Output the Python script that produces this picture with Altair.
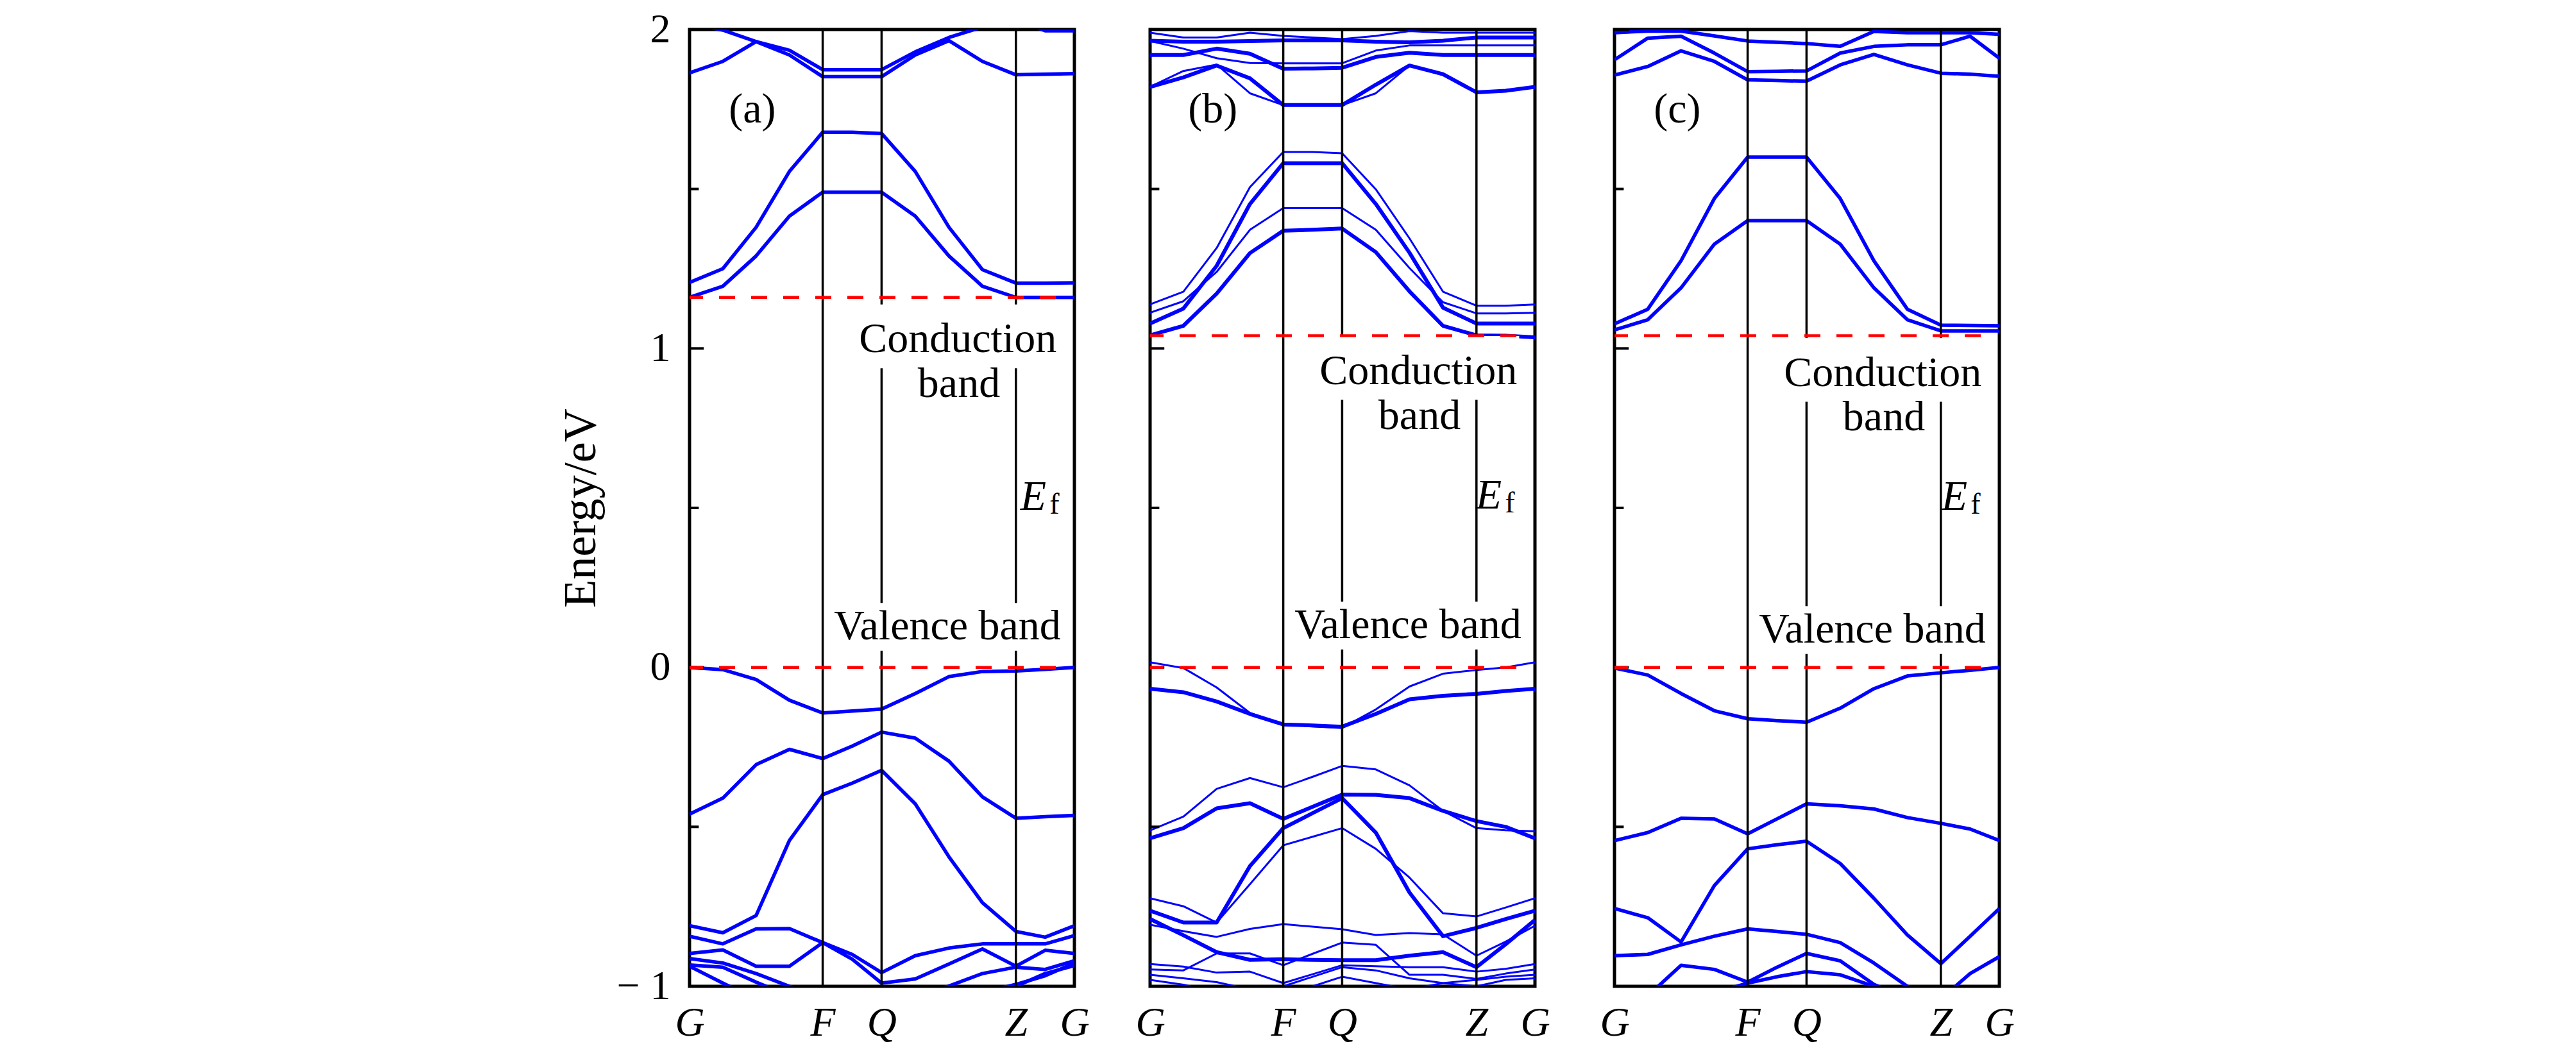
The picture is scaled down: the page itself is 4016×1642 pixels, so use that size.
import altair as alt
import pandas as pd

# ---------------- data ----------------
K = [0, 0.0865, 0.173, 0.2595, 0.346, 0.4225, 0.499, 0.5865, 0.674, 0.761, 0.848, 0.924, 1.0]
KPOINT_NAMES = ["G", "F", "Q", "Z", "G"]
KPOINT_POS = [0, 0.346, 0.499, 0.848, 1.0]
Y_MAJOR = [-1, 0, 1, 2]
Y_MINOR = [-0.5, 0.5, 1.5]
Y_LABELS = [-1, 0, 1, 2]

CBM_A, CBM_B, CBM_C = 1.16, 1.04, 1.04
VBM = 0.0

# panel (a)
BANDS_A = [
    [1.16, 1.195, 1.29, 1.415, 1.49, 1.49, 1.49, 1.415, 1.29, 1.195, 1.16, 1.16, 1.16],
    [1.207, 1.25, 1.38, 1.555, 1.678, 1.678, 1.674, 1.555, 1.38, 1.247, 1.205, 1.205, 1.206],
    [1.864, 1.90, 1.962, 1.92, 1.852, 1.852, 1.852, 1.92, 1.965, 1.90, 1.858, 1.86, 1.862],
    [2.02, 1.998, 1.962, 1.935, 1.874, 1.874, 1.874, 1.93, 1.975, 2.008, 2.03, 1.996, 1.996],
    [0.0, -0.007, -0.038, -0.103, -0.143, -0.137, -0.131, -0.082, -0.029, -0.013, -0.011, -0.006, 0.0],
    [-0.46, -0.41, -0.305, -0.257, -0.286, -0.247, -0.203, -0.222, -0.294, -0.406, -0.473, -0.468, -0.464],
    [-0.81, -0.832, -0.778, -0.543, -0.399, -0.363, -0.323, -0.428, -0.594, -0.738, -0.828, -0.846, -0.81],
    [-0.843, -0.867, -0.82, -0.819, -0.863, -0.90, -0.957, -0.904, -0.88, -0.867, -0.867, -0.867, -0.841],
    [-0.897, -0.886, -0.937, -0.937, -0.863, -0.915, -0.99, -0.977, -0.93, -0.883, -0.937, -0.887, -0.897],
    [-0.913, -0.927, -0.96, -1.0, -1.04, -1.06, -1.06, -1.04, -0.999, -0.96, -0.94, -0.947, -0.92],
    [-0.933, -0.94, -0.987, -1.03, -1.06, -1.08, -1.08, -1.07, -1.04, -1.02, -0.994, -0.967, -0.927],
    [-0.937, -0.99, -1.04, -1.08, -1.1, -1.1, -1.1, -1.1, -1.08, -1.04, -1.0, -0.96, -0.935],
]
WIDTHS_A = [5.5] * len(BANDS_A)

# panel (b)
BANDS_B = [
    [1.138, 1.178, 1.315, 1.506, 1.616, 1.616, 1.612, 1.499, 1.345, 1.178, 1.134, 1.134, 1.138],
    [1.078, 1.125, 1.259, 1.453, 1.581, 1.581, 1.581, 1.453, 1.30, 1.128, 1.078, 1.078, 1.078],
    [1.112, 1.148, 1.24, 1.372, 1.44, 1.44, 1.44, 1.372, 1.252, 1.145, 1.11, 1.11, 1.112],
    [1.041, 1.071, 1.172, 1.299, 1.369, 1.372, 1.376, 1.302, 1.179, 1.071, 1.041, 1.04, 1.035],
    [1.82, 1.85, 1.887, 1.847, 1.763, 1.763, 1.763, 1.827, 1.887, 1.86, 1.803, 1.808, 1.82],
    [1.82, 1.87, 1.89, 1.80, 1.763, 1.763, 1.763, 1.80, 1.887, 1.857, 1.803, 1.81, 1.82],
    [1.92, 1.92, 1.94, 1.924, 1.877, 1.878, 1.88, 1.914, 1.927, 1.92, 1.92, 1.92, 1.92],
    [1.964, 1.94, 1.91, 1.895, 1.894, 1.894, 1.894, 1.934, 1.95, 1.95, 1.95, 1.95, 1.95],
    [1.965, 1.962, 1.962, 1.964, 1.966, 1.966, 1.966, 1.962, 1.96, 1.965, 1.975, 1.975, 1.975],
    [1.99, 1.975, 1.975, 1.99, 1.98, 1.975, 1.97, 1.98, 1.995, 1.99, 1.99, 1.99, 1.99],
    [0.016, -0.002, -0.063, -0.143, -0.179, -0.185, -0.19, -0.132, -0.06, -0.02, -0.008, 0.0, 0.016],
    [-0.067, -0.078, -0.107, -0.146, -0.179, -0.182, -0.186, -0.146, -0.10, -0.089, -0.083, -0.074, -0.067],
    [-0.511, -0.468, -0.381, -0.347, -0.376, -0.343, -0.309, -0.32, -0.37, -0.45, -0.504, -0.511, -0.514],
    [-0.536, -0.504, -0.442, -0.426, -0.475, -0.437, -0.399, -0.40, -0.41, -0.45, -0.482, -0.50, -0.536],
    [-0.763, -0.80, -0.80, -0.623, -0.504, -0.457, -0.41, -0.518, -0.706, -0.843, -0.817, -0.789, -0.763],
    [-0.724, -0.749, -0.80, -0.68, -0.558, -0.531, -0.504, -0.569, -0.659, -0.771, -0.781, -0.753, -0.724],
    [-0.807, -0.827, -0.845, -0.82, -0.805, -0.813, -0.821, -0.839, -0.833, -0.837, -0.904, -0.86, -0.81],
    [-0.789, -0.84, -0.893, -0.917, -0.915, -0.917, -0.918, -0.918, -0.904, -0.893, -0.94, -0.868, -0.792],
    [-0.93, -0.938, -0.957, -0.954, -0.99, -0.962, -0.934, -0.937, -0.94, -0.94, -0.954, -0.945, -0.93],
    [-0.947, -0.95, -0.897, -0.897, -0.934, -0.898, -0.863, -0.87, -0.964, -0.964, -0.977, -0.96, -0.947],
    [-0.964, -0.975, -0.987, -1.01, -1.03, -1.0, -0.97, -0.99, -1.01, -0.99, -0.98, -0.97, -0.964],
    [-0.98, -0.995, -1.02, -1.04, -1.0, -0.97, -0.94, -0.95, -0.975, -0.99, -1.0, -0.98, -0.975],
]
WIDTHS_B = [3, 6, 3, 6, 6, 3, 6, 3, 6, 3, 3, 6, 3, 6, 6, 3, 3, 6, 3, 3, 3, 3]

# panel (c)
BANDS_C = [
    [1.058, 1.09, 1.19, 1.327, 1.401, 1.401, 1.401, 1.327, 1.19, 1.09, 1.055, 1.055, 1.055],
    [1.077, 1.123, 1.275, 1.47, 1.60, 1.60, 1.60, 1.47, 1.275, 1.123, 1.073, 1.072, 1.071],
    [1.857, 1.884, 1.933, 1.90, 1.842, 1.84, 1.838, 1.889, 1.922, 1.889, 1.863, 1.86, 1.853],
    [1.905, 1.973, 1.979, 1.926, 1.868, 1.869, 1.87, 1.926, 1.947, 1.952, 1.952, 1.979, 1.91],
    [1.99, 1.995, 1.995, 1.98, 1.964, 1.96, 1.956, 1.947, 1.994, 1.99, 1.99, 1.99, 1.985],
    [-0.002, -0.024, -0.082, -0.136, -0.161, -0.167, -0.172, -0.128, -0.067, -0.027, -0.017, -0.009, 0.0],
    [-0.543, -0.518, -0.473, -0.475, -0.522, -0.475, -0.428, -0.434, -0.444, -0.471, -0.489, -0.507, -0.543],
    [-0.756, -0.785, -0.861, -0.684, -0.569, -0.556, -0.545, -0.615, -0.724, -0.839, -0.929, -0.843, -0.756],
    [-0.904, -0.90, -0.87, -0.843, -0.82, -0.828, -0.837, -0.863, -0.927, -1.0, -1.04, -0.96, -0.907],
    [-1.05, -1.03, -0.934, -0.947, -0.987, -0.94, -0.897, -0.92, -0.994, -1.04, -1.06, -1.05, -1.05],
    [-1.08, -1.06, -1.03, -1.02, -0.99, -0.97, -0.954, -0.964, -1.0, -1.05, -1.08, -1.08, -1.08],
]
WIDTHS_C = [5.5] * len(BANDS_C)

# annotation text (panel tag, baselines of labels in eV, x centres as fraction of path)
PANEL_TAGS = ["(a)", "(b)", "(c)"]
COND_BASE = [0.988, 0.889, 0.883]
BAND_BASE = [0.848, 0.747, 0.743]
VAL_BASE = [0.087, 0.091, 0.077]
EF_BASE = [0.493, 0.497, 0.493]
EF_X = [0.893, 0.88, 0.883]
CBMS = [CBM_A, CBM_B, CBM_C]

SERIF = "Liberation Serif"
BLUE = "#0000ff"
RED = "#ff0000"
W, H = 600, 1492

x_label_expr = " : ".join(
    f"datum.value == {p} ? '{n}'" for p, n in zip(KPOINT_POS, KPOINT_NAMES)
) + " : ''"

XSCALE = alt.Scale(domain=[0, 1], nice=False, zero=False)
YSCALE = alt.Scale(domain=[-1, 2], nice=False, zero=False)

X_AXIS = alt.Axis(values=KPOINT_POS, labelExpr=x_label_expr, tickSize=0, domain=False,
                  grid=False, labelFont=SERIF, labelFontStyle="italic", labelFontSize=64,
                  labelPadding=25, labelFlush=False, labelColor="black", title=None)

Y_AXIS = alt.Axis(values=Y_LABELS, tickSize=0, domain=False, grid=False,
                  labelFont=SERIF, labelFontSize=64, labelPadding=30, labelColor="black",
                  labelExpr="datum.value < 0 ? '\u2212 ' + format(-datum.value, 'd') : format(datum.value, 'd')",
                  title="Energy/eV", titleFont=SERIF, titleFontSize=72, titleFontWeight="normal",
                  titleColor="black", titleX=-170, titleY=H / 2, titleBaseline="middle",
                  titleAlign="center", titleAngle=-90)


def xenc(field, axis=True):
    return alt.X(f"{field}:Q", scale=XSCALE, axis=X_AXIS if axis else None, title=None)


def yenc(field, axis):
    return alt.Y(f"{field}:Q", scale=YSCALE, axis=axis, title=None)


def make_panel(idx, bands, widths, show_y):
    yax = Y_AXIS if show_y else None
    rows = []
    for b, (vals, w) in enumerate(zip(bands, widths)):
        for k, e in zip(K, vals):
            rows.append({"band": b, "k": k, "E": e, "w": w})
    df = pd.DataFrame(rows)

    lines = alt.Chart(df).mark_line(color=BLUE, clip=True, strokeJoin="round").encode(
        x=xenc("k"), y=yenc("E", yax), detail="band:N",
        strokeWidth=alt.StrokeWidth("w:Q", scale=None), order="k:Q")

    kl = pd.DataFrame({"k": KPOINT_POS[1:-1]})
    klines = alt.Chart(kl).mark_rule(color="black", strokeWidth=3.5).encode(x=xenc("k"))

    ticks = pd.DataFrame({"E": Y_MAJOR + Y_MINOR, "k": 0.0,
                          "k2": [0.037] * len(Y_MAJOR) + [0.024] * len(Y_MINOR)})
    tick_rules = alt.Chart(ticks).mark_rule(color="black", strokeWidth=4).encode(
        x=xenc("k"), x2="k2:Q", y=yenc("E", yax))

    cb = COND_BASE[idx]
    vb = VAL_BASE[idx]
    boxes = pd.DataFrame({
        "k": [0.697 - 0.262, 0.67 - 0.305],
        "k2": [0.697 + 0.262, 0.67 + 0.305],
        "E": [cb - 0.05, vb - 0.035],
        "E2": [cb + 0.15, vb + 0.115],
    })
    box_marks = alt.Chart(boxes).mark_rect(color="white").encode(
        x=xenc("k"), x2="k2:Q", y=yenc("E", yax), y2="E2:Q")

    ef = pd.DataFrame({"k": [0.0, 0.0], "k2": [0.955, 0.955], "E": [CBMS[idx], VBM]})
    dashed = alt.Chart(ef).mark_rule(color=RED, strokeWidth=4.5, strokeDash=[25, 25],
                                     strokeDashOffset=4).encode(
        x=xenc("k"), x2="k2:Q", y=yenc("E", yax))

    texts = pd.DataFrame({
        "k": [0.163, 0.697, 0.70, 0.67],
        "E": [1.748, cb, BAND_BASE[idx], vb],
        "t": [PANEL_TAGS[idx], "Conduction", "band", "Valence band"],
    })
    tag = alt.Chart(texts.iloc[:1]).mark_text(font=SERIF, fontSize=66, color="black",
                                              baseline="middle", align="center").encode(
        x=xenc("k"), y=yenc("E", yax), text="t:N")
    labels = alt.Chart(texts.iloc[1:]).mark_text(font=SERIF, fontSize=66, color="black",
                                                 baseline="alphabetic", align="center").encode(
        x=xenc("k"), y=yenc("E", yax), text="t:N")

    e_df = pd.DataFrame({"k": [EF_X[idx]], "E": [EF_BASE[idx]], "t": ["E"]})
    f_df = pd.DataFrame({"k": [EF_X[idx] + 0.055], "E": [EF_BASE[idx] - 0.012], "t": ["f"]})
    e_mark = alt.Chart(e_df).mark_text(font=SERIF, fontSize=66, fontStyle="italic",
                                       color="black", baseline="alphabetic", align="center").encode(
        x=xenc("k"), y=yenc("E", yax), text="t:N")
    f_mark = alt.Chart(f_df).mark_text(font=SERIF, fontSize=46, color="black",
                                       baseline="alphabetic", align="center").encode(
        x=xenc("k"), y=yenc("E", yax), text="t:N")

    return alt.layer(lines, klines, tick_rules, box_marks, dashed, tag, labels,
                     e_mark, f_mark).properties(width=W, height=H)


pa = make_panel(0, BANDS_A, WIDTHS_A, True)
pb = make_panel(1, BANDS_B, WIDTHS_B, False)
pc = make_panel(2, BANDS_C, WIDTHS_C, False)

chart = alt.hconcat(alt.hconcat(pa, pb, spacing=66), pc, spacing=72).properties(
    padding={"left": 858, "top": 3, "right": 10, "bottom": 10},
    background="white",
).configure_view(stroke="black", strokeWidth=5)

chart.save("out.html", embed_options={"renderer": "svg", "actions": False})
